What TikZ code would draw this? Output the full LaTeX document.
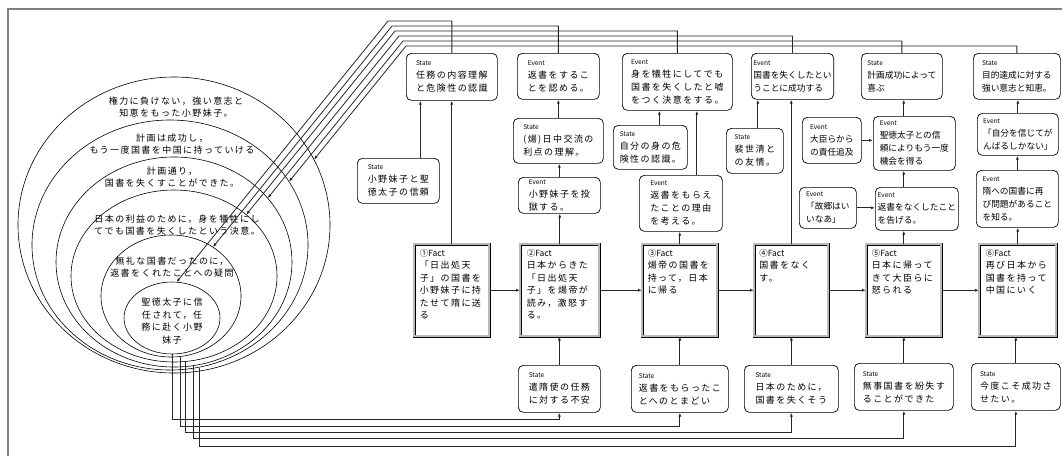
\documentclass[tikz,border=0pt]{standalone}
\usepackage{fontspec}
\newfontfamily\jpwide[LetterSpace=16]{Noto Sans CJK JP}
\newfontfamily\jptight{Noto Sans CJK JP}
\usetikzlibrary{arrows.meta, intersections}

\newcommand{\kind}{\jptight\fontsize{6.5}{9}\selectfont}
\newcommand{\factkind}{\jptight\fontsize{8.5}{12}\selectfont}

\tikzset{
  link/.style={draw=black!85, line width=0.8pt, -{Latex[length=4pt,width=3pt]}},
  wide/.style={font=\jpwide\fontsize{9}{13}\selectfont},
  tight/.style={font=\jptight\fontsize{8.7}{13}\selectfont},
  card/.style 2 args={draw, rounded corners=5pt, line width=0.7pt, anchor=north west,
    align=left, inner sep=2pt, minimum width=#1pt, minimum height=#2pt},
  fact/.style={draw, double=gray!55, double distance=1.8pt, line width=0.5pt,
    anchor=north west, inner sep=3pt, minimum width=#1pt, minimum height=92pt,
    font=\jpwide\fontsize{9}{12.5}\selectfont},
  ring/.style={line width=0.6pt},
  ringtext/.style={align=center, font=\jpwide\fontsize{9}{12.5}\selectfont},
}

\begin{document}
\begin{tikzpicture}[x=1pt, y=-1pt]
  \useasboundingbox (0,0) rectangle (1062,456);
  \draw[gray, line width=1.5pt] (8,456) -- (8,9) -- (1062,9);

  % nested rings of the person
  \draw[ring, name path=e1] (174,225) ellipse (156 and 148);
  \draw[ring, name path=e2] (170,245) ellipse (138 and 125);
  \draw[ring, name path=e3] (174,262) ellipse (118 and 105);
  \draw[ring, name path=e4] (174,276) ellipse (103 and 86);
  \draw[ring, name path=e5] (171,296) ellipse (70 and 61);
  \draw[ring, name path=e6] (172,318) ellipse (48 and 36);

  \node[ringtext] (r1) at (176,107) {権力に負けない，強い意志と\\知恵をもった小野妹子。};
  \node[ringtext] (r2) at (172,144) {計画は成功し，\\もう一度国書を中国に持っていける};
  \node[ringtext] (r3) at (172,177) {計画通り，\\国書を失くすことができた。};
  \node[ringtext] (r4) at (177,225) {日本の利益のために，身を犠牲にし\\てでも国書を失くしたという決意。};
  \node[ringtext] (r5) at (172,267) {無礼な国書だったのに，\\返書をくれたことへの疑問};
  \node[ringtext] (r6) at (172,321) {聖徳太子に信\\任されて，任\\務に赴く小野\\妹子};

  % top row
  \node[card={91}{47}, wide] (t1) at (406,53) {{\kind State}\\任務の内容理解\\と危険性の認識};
  \node[card={82}{46}, wide] (t2) at (517,53) {{\kind Event}\\返書をするこ\\とを認める。};
  \node[card={110}{57}, wide] (t3) at (622,53) {{\kind Event}\\身を犠牲にしてでも\\国書を失くしたと嘘\\をつく決意をする。};
  \node[card={82}{46}, tight] (t4) at (751,53) {{\kind Event}\\国書を失くしたとい\\うことに成功する};
  \node[card={81}{46}, tight] (t5) at (861,53) {{\kind State}\\計画成功によって\\喜ぶ};
  \node[card={87}{46}, tight] (t6) at (973,53) {{\kind State}\\目的達成に対する\\強い意志と知恵。};

  % middle
  \node[card={82}{45}, wide] (m1) at (357,158) {{\kind State}\\小野妹子と聖\\徳太子の信頼};
  \node[card={90}{45}, wide] (m2a) at (513,118) {{\kind State}\\(煬)日中交流の\\利点の理解。};
  \node[card={82}{36}, wide] (m2b) at (518,177) {{\kind Event}\\小野妹子を投\\獄する。};
  \node[card={74}{44}, wide] (m3a) at (613,125) {{\kind State}\\自分の身の危\\険性の認識。};
  \node[card={83}{56}, wide] (m3b) at (639,175) {{\kind Event}\\返書をもらえ\\たことの理由\\を考える。};
  \node[card={57}{45}, wide] (m4) at (726,128) {{\kind State}\\裴世清と\\の友情。};
  \node[card={59}{46}, tight] (m5a) at (802,117) {{\kind Event}\\大臣らから\\の責任追及};
  \node[card={82}{54}, tight] (m5b) at (873,116) {{\kind Event}\\聖徳太子との信\\頼によりもう一度\\機会を得る};
  \node[card={57}{41}, tight] (m5c) at (799,187) {{\kind Event}\\「故郷はい\\いなあ」};
  \node[card={83}{43}, tight] (m5d) at (875,187) {{\kind Event}\\返書をなくしたこと\\を告げる。};
  \node[card={81}{42}, tight] (m6a) at (977,113) {{\kind Event}\\「自分を信じてが\\んばるしかない」};
  \node[card={82}{57}, tight] (m6b) at (976,170) {{\kind Event}\\隋への国書に再\\び問題があること\\を知る。};

  % facts
  \node[fact=75] (f1) at (414,244) {\parbox[t][82pt][t]{64pt}{\raggedright{\factkind ①Fact}\\「日出処天\\子」の国書を\\小野妹子に持\\たせて隋に送\\る}};
  \node[fact=79] (f2) at (520,244) {\parbox[t][82pt][t]{66pt}{\raggedright{\factkind ②Fact}\\日本からきた\\「日出処天\\子」を煬帝が\\読み，激怒す\\る。}};
  \node[fact=75] (f3) at (642,244) {\parbox[t][82pt][t]{64pt}{\raggedright{\factkind ③Fact}\\煬帝の国書を\\持って，日本\\に帰る}};
  \node[fact=74] (f4) at (754,244) {\parbox[t][82pt][t]{64pt}{\raggedright{\factkind ④Fact}\\国書をなく\\す。}};
  \node[fact=75] (f5) at (866,244) {\parbox[t][82pt][t]{64pt}{\raggedright{\factkind ⑤Fact}\\日本に帰って\\きて大臣らに\\怒られる}};
  \node[fact=77] (f6) at (979,244) {\parbox[t][82pt][t]{64pt}{\raggedright{\factkind ⑥Fact}\\再び日本から\\国書を持って\\中国にいく}};

  % bottom row
  \node[card={82}{47}, wide] (b2) at (518,365) {{\kind State}\\遣隋使の任務\\に対する不安};
  \node[card={97}{47}, wide] (b3) at (631,365) {{\kind State}\\返書をもらったこ\\とへのとまどい};
  \node[card={94}{47}, wide] (b4) at (744,365) {{\kind State}\\日本のために，\\国書を失くそう};
  \node[card={99}{47}, wide] (b5) at (854,363) {{\kind State}\\無事国書を紛失す\\ることができた};
  \node[card={89}{47}, wide] (b6) at (971,363) {{\kind State}\\今度こそ成功さ\\せたい。};

  % fact chain
  \foreach \a/\b in {f1/f2, f2/f3, f3/f4, f4/f5, f5/f6}
    \draw[link] (\a.east) -- (\b.west);

  % upward links
  \draw[link] (f1.north) -- (f1.north |- t1.south);
  \draw[link] ([xshift=22pt]m1.north) -- ([xshift=22pt]m1.north |- t1.south);
  \draw[link] (f2.north) -- (f2.north |- m2b.south);
  \draw[link] (m2b.north) -- (m2b.north |- m2a.south);
  \draw[link] (m2a.north) -- (m2a.north |- t2.south);
  \draw[link] (f3.north) -- (f3.north |- m3b.south);
  \draw[link] ([xshift=16pt]m3b.north) -- ([xshift=16pt]m3b.north |- t3.south);
  \draw[link] ([xshift=9pt]m3a.north) -- ([xshift=9pt]m3a.north |- t3.south);
  \draw[link] (f4.north) -- (f4.north |- t4.south);
  \draw[link] ([xshift=3pt]m4.north) -- ([xshift=3pt]m4.north |- t4.south);
  \draw[link] (f5.north) -- (f5.north |- m5d.south);
  \draw[link] (f5.north |- m5d.north) -- (f5.north |- m5b.south);
  \draw[link] (f5.north |- m5b.north) -- (f5.north |- t5.south);
  \draw[link] (m5c.east) -- (m5c.east -| m5d.west);
  \draw[link] (m5a.east) -- (m5a.east -| m5b.west);
  \draw[link] (f6.north) -- (f6.north |- m6b.south);
  \draw[link] (m6b.north) -- (m6b.north |- m6a.south);
  \draw[link] (m6a.north) -- (m6a.north |- t6.south);
  \foreach \s/\f in {b2/f2, b3/f3, b4/f4, b5/f5, b6/f6}
    \draw[link] (\s.north) -- (\s.north |- \f.south);

  % bundle from the top boxes into the rings
  \coordinate (k1) at (388,21);
  \coordinate (k2) at (392,26);
  \coordinate (k3) at (395,31);
  \coordinate (k4) at (399,36);
  \coordinate (k5) at (403,41);
  \coordinate (k6) at (406,46);
  \path[name path=g1] (k1) -- ++(-243,300);
  \path[name path=g2] (k2) -- ++(-243,300);
  \path[name path=g3] (k3) -- ++(-243,300);
  \path[name path=g4] (k4) -- ++(-243,300);
  \path[name path=g5] (k5) -- ++(-243,300);
  \path[name path=g6] (k6) -- ++(-243,300);
  \path[name intersections={of=g1 and e6, sort by=g1, by=h1}];
  \path[name intersections={of=g2 and e5, sort by=g2, by=h2}];
  \path[name intersections={of=g3 and e4, sort by=g3, by=h3}];
  \path[name intersections={of=g4 and e3, sort by=g4, by=h4}];
  \path[name intersections={of=g5 and e2, sort by=g5, by=h5}];
  \path[name intersections={of=g6 and e1, sort by=g6, by=h6}];
  \foreach \i in {1,...,6}
    \draw[link] (t\i.north) |- (k\i) -- (h\i);

  % bundle from the rings to the bottom states
  \coordinate (d6) at (172,354);
  \coordinate (d5) at (180,356.5);
  \coordinate (d4) at (185,361.5);
  \coordinate (d3) at (193,365.6);
  \coordinate (d2) at (199,368);
  \draw[link] (d6) |- ([yshift=-7pt]b2.south) -- (b2.south);
  \draw[link] (d5) |- ([yshift=-14pt]b3.south) -- (b3.south);
  \draw[link] (d4) |- ([yshift=-20pt]b4.south) -- (b4.south);
  \draw[link] (d3) |- ([yshift=-28pt]b5.south) -- (b5.south);
  \draw[link] (d2) |- ([yshift=-36pt]b6.south) -- (b6.south);
\end{tikzpicture}
\end{document}
